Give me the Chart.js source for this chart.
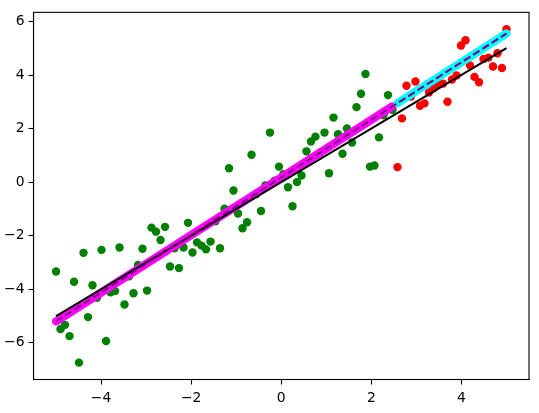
<!DOCTYPE html>
<html>
<head>
<meta charset="utf-8">
<script src="https://cdn.jsdelivr.net/npm/chart.js@4.4.1/dist/chart.umd.min.js"></script>
<style>
  html, body { margin: 0; padding: 0; background: #fff; }
  #wrap { width: 539px; height: 413px; }
</style>
</head>
<body>
<div id="wrap"><canvas id="myChart" width="539" height="413"></canvas></div>
<script>
// scatter points (x evenly spaced, y)
const greenX = [-5.00, -4.90, -4.80, -4.70, -4.60, -4.49, -4.39, -4.29, -4.19, -4.09,
  -3.99, -3.89, -3.79, -3.69, -3.59, -3.48, -3.38, -3.28, -3.18, -3.08,
  -2.98, -2.88, -2.78, -2.68, -2.58, -2.47, -2.37, -2.27, -2.17, -2.07,
  -1.97, -1.87, -1.77, -1.67, -1.57, -1.46, -1.36, -1.26, -1.16, -1.06,
  -0.96, -0.86, -0.76, -0.66, -0.56, -0.45, -0.35, -0.25, -0.15, -0.05,
  0.05, 0.15, 0.25, 0.35, 0.45, 0.56, 0.66, 0.76, 0.86, 0.96,
  1.06, 1.16, 1.26, 1.36, 1.46, 1.57, 1.67, 1.77, 1.87, 1.97,
  2.07, 2.17, 2.27, 2.37, 2.47];
const greenY = [-3.34, -5.49, -5.33, -5.75, -3.72, -6.74, -2.64, -5.04, -3.85, -4.32,
  -2.53, -5.93, -4.11, -4.07, -2.44, -4.57, -3.52, -4.15, -3.09, -2.49,
  -4.05, -1.70, -1.85, -2.16, -1.67, -3.15, -2.47, -3.21, -2.44, -1.52,
  -2.63, -2.25, -2.37, -2.51, -2.22, -1.46, -2.47, -0.99, 0.52, -0.31,
  -1.17, -1.72, -1.50, 1.02, -0.45, -1.08, -0.12, 1.85, 0.05, 0.58,
  0.30, -0.19, -0.90, 0.00, 0.25, 1.15, 1.52, 1.70, 1.10, 1.85,
  0.33, 2.41, 1.79, 1.06, 2.00, 1.48, 2.80, 3.30, 4.04, 0.58,
  0.62, 1.67, 2.50, 3.25, 2.70];
const redX = [2.58, 2.68, 2.78, 2.88, 2.98, 3.08, 3.18, 3.28, 3.38, 3.48,
  3.59, 3.69, 3.79, 3.89, 3.99, 4.09, 4.19, 4.29, 4.39, 4.49,
  4.60, 4.70, 4.80, 4.90, 5.00];
const redY = [0.56, 2.38, 3.60, 3.20, 3.76, 2.85, 2.94, 3.35, 3.50, 3.65,
  3.68, 3.00, 3.83, 3.98, 5.10, 5.30, 4.36, 3.93, 3.73, 4.60,
  4.65, 4.32, 4.81, 4.26, 5.71];

// lines (end points)
const trueX = [-5, 5];
const trueY = [-5, 5];
const fitGreenX = [-5.00, 2.47];
const fitGreenY = [-5.20, 2.83];
const fitRedX = [2.58, 5.00];
const fitRedY = [2.95, 5.55];
const fitAllX = [-5, 5];
const fitAllY = [-5.20, 5.55];

const xTicks = [-4, -2, 0, 2, 4];
const yTicks = [-6, -4, -2, 0, 2, 4, 6];

const pts = (xs, ys) => xs.map((x, i) => ({ x: x, y: ys[i] }));
const fmt = (v) => (v < 0 ? "\u2212" + Math.abs(v) : String(v));

const frame = {
  id: "frame",
  afterDatasetsDraw(chart) {
    const a = chart.chartArea;
    const ctx = chart.ctx;
    ctx.save();
    ctx.strokeStyle = "#000";
    ctx.lineWidth = 1.1;
    ctx.strokeRect(a.left, a.top, a.right - a.left, a.bottom - a.top);
    ctx.restore();
  },
};

const tickFont = { family: "DejaVu Sans", size: 13.9 };

const lineSet = (xs, ys, color, width, order, extra) =>
  Object.assign(
    {
      type: "line",
      data: pts(xs, ys),
      borderColor: color,
      borderWidth: width,
      pointRadius: 0,
      showLine: true,
      fill: false,
      order: order,
    },
    extra || {}
  );

const ctx = document.getElementById("myChart").getContext("2d");
const myChart = new Chart(ctx, {
  type: "scatter",
  data: {
    datasets: [
      lineSet(fitAllX, fitAllY, "#800080", 2.1, 0, { borderDash: [7.7, 3.3] }),
      lineSet(trueX, trueY, "#000000", 2, 1),
      lineSet(fitRedX, fitRedY, "#00ffff", 8.3, 2, { borderCapStyle: "round" }),
      lineSet(fitGreenX, fitGreenY, "#ff00ff", 8.3, 3, { borderCapStyle: "round" }),
      {
        data: pts(redX, redY),
        backgroundColor: "#ff0000",
        borderWidth: 0,
        pointRadius: 4.2,
        pointHoverRadius: 4.2,
        order: 4,
      },
      {
        data: pts(greenX, greenY),
        backgroundColor: "#008000",
        borderWidth: 0,
        pointRadius: 4.2,
        pointHoverRadius: 4.2,
        order: 5,
      },
    ],
  },
  options: {
    responsive: false,
    animation: false,
    devicePixelRatio: 1,
    layout: { padding: { left: 0, top: 10, right: 10, bottom: 0 } },
    plugins: { legend: { display: false }, tooltip: { enabled: false } },
    scales: {
      x: {
        type: "linear",
        min: -5.5,
        max: 5.5,
        afterBuildTicks: (s) => { s.ticks = xTicks.map((v) => ({ value: v })); },
        afterFit: (s) => { s.height = 33.5; },
        grid: { drawOnChartArea: false, tickLength: 5, tickColor: "#000", tickWidth: 1.1 },
        border: { display: true, color: "#000", width: 1.1 },
        ticks: { color: "#000", font: tickFont, padding: 6, maxRotation: 0, autoSkip: false, callback: fmt },
      },
      y: {
        type: "linear",
        min: -7.37,
        max: 6.34,
        afterBuildTicks: (s) => { s.ticks = yTicks.map((v) => ({ value: v })); },
        afterFit: (s) => { s.width = 33.5; },
        grid: { drawOnChartArea: false, tickLength: 5, tickColor: "#000", tickWidth: 1.1 },
        border: { display: true, color: "#000", width: 1.1 },
        ticks: { color: "#000", font: tickFont, padding: 4, autoSkip: false, callback: fmt },
      },
    },
  },
  plugins: [frame],
});
</script>
</body>
</html>
